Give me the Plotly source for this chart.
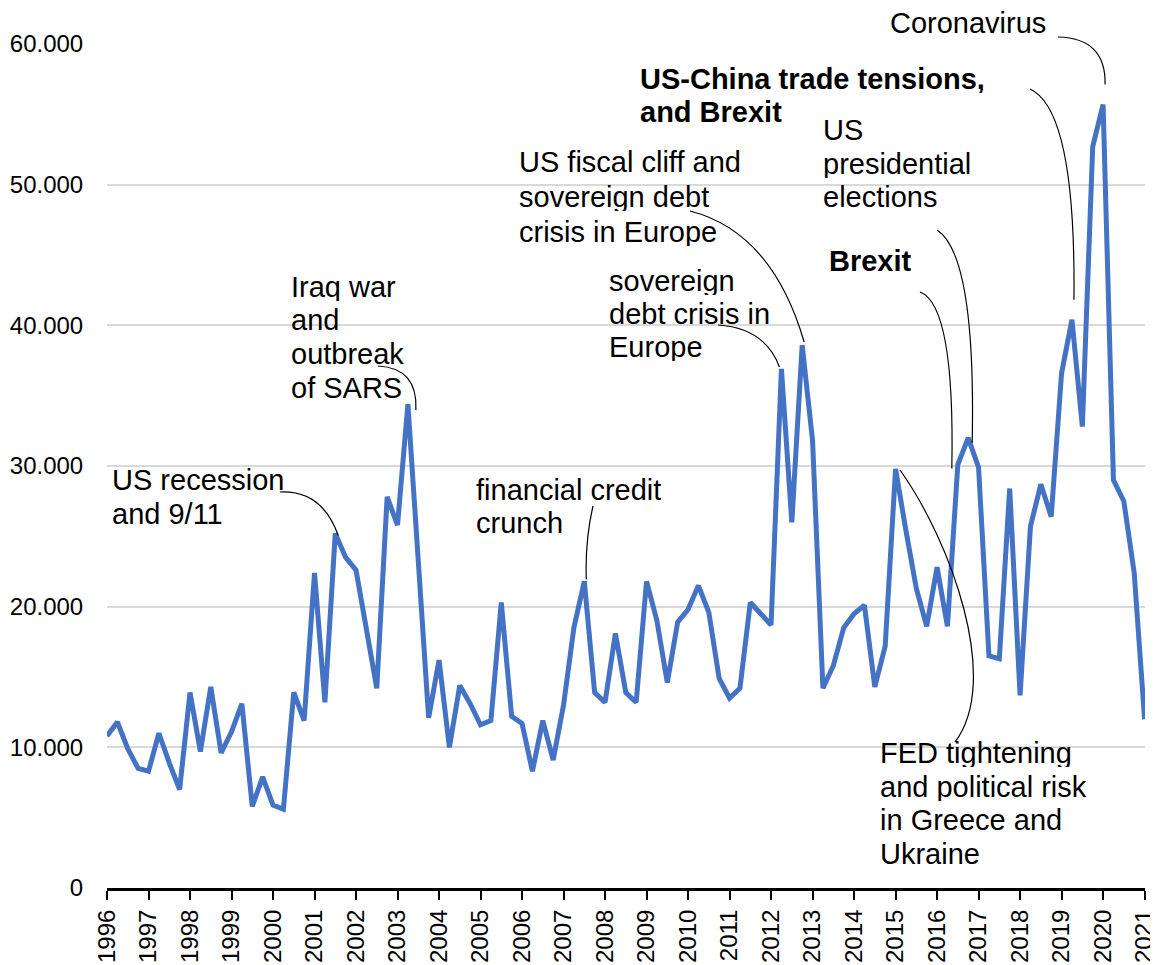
"""Quarterly volatility series with event annotations, 1996-2021."""

import plotly.graph_objects as go

# quarterly values, 1996Q1 .. 2021Q1
volatility = [
    10.8, 11.8, 9.9, 8.5, 8.3, 11.0, 8.9, 7.0,        # 1996-1997
    13.9, 9.7, 14.3, 9.6, 11.1, 13.1, 5.8, 7.9,       # 1998-1999
    5.9, 5.6, 13.9, 11.9, 22.4, 13.2, 25.2, 23.5,     # 2000-2001
    22.6, 18.2, 14.2, 27.8, 25.8, 34.4, 23.0, 12.1,   # 2002-2003
    16.2, 10.0, 14.4, 13.1, 11.6, 11.9, 20.3, 12.2,   # 2004-2005
    11.7, 8.3, 11.9, 9.1, 13.0, 18.5, 21.8, 13.9,     # 2006-2007
    13.2, 18.1, 13.9, 13.2, 21.8, 19.0, 14.6, 18.9,   # 2008-2009
    19.8, 21.5, 19.6, 14.9, 13.5, 14.2, 20.3, 19.5,   # 2010-2011
    18.7, 36.9, 26.0, 38.6, 31.8, 14.2, 15.8, 18.5,   # 2012-2013
    19.5, 20.1, 14.3, 17.2, 29.8, 25.4, 21.3, 18.6,   # 2014-2015
    22.8, 18.6, 30.1, 32.0, 29.9, 16.5, 16.3, 28.4,   # 2016-2017
    13.7, 25.7, 28.7, 26.4, 36.6, 40.4, 32.8, 52.7,   # 2018-2019
    55.7, 29.0, 27.5, 22.4, 12.0,                     # 2020-2021
]
years = list(range(1996, 2022))
y_ticks = [0, 10, 20, 30, 40, 50, 60]
y_tick_labels = ["0", "10.000", "20.000", "30.000", "40.000", "50.000", "60.000"]

event_texts = [
    ["US recession", "and 9/11"],
    ["Iraq war", "and", "outbreak", "of SARS"],
    ["financial credit", "crunch"],
    ["US fiscal cliff and", "sovereign debt", "crisis in Europe"],
    ["sovereign", "debt crisis in", "Europe"],
    ["US-China trade tensions,", "and Brexit"],
    ["US", "presidential", "elections"],
    ["Brexit"],
    ["Coronavirus"],
    ["FED tightening", "and political risk", "in Greece and", "Ukraine"],
]
event_quarter = [22, 29, 46, 67, 65, 93, 83, 82, 96, 76]

# screen pixels (window 1158 x 965); the page body adds an 8 px margin
SCREEN_W, SCREEN_H, OFF = 1158, 965, 8
PL, PR, PT, PB = 107, 1145, 44, 888
X_END = years[-1] + 0.01
FONT = "Liberation Sans, Arial, sans-serif"

# text block: left x, first line centre y, line step, bold
text_pos = [
    (111, 480, 33.5, False),
    (290, 287, 33.5, False),
    (475, 490, 33.0, False),
    (518, 162, 35.0, False),
    (608, 281, 33.0, False),
    (639, 79, 33.0, True),
    (822, 130, 33.5, False),
    (828, 261, 33.0, True),
    (889, 23, 33.0, False),
    (879, 753, 33.5, False),
]
# leader: start pixel, control pixels, end offset (px) from the data point
leader_geom = [
    ((280, 492), [(322, 490)], (3, 2)),
    ((378, 366), [(418, 368)], (8, 6)),
    ((593, 506), [(585, 540)], (2, -2)),
    ((690, 211), [(772, 232)], (2, -3)),
    ((718, 325), [(765, 328)], (-2, -2)),
    ((1030, 89), [(1076, 110)], (2, -20)),
    ((937, 230), [(976, 255)], (4, 5)),
    ((920, 292), [(955, 305)], (-6, 4)),
    ((1058, 37), [(1106, 38)], (2, -20)),
    ((900, 470), [(950, 540), (1002, 680)], (0, 0)),
]


def px_x(px):
    return (px - PL) / (PR - PL)


def px_y(py):
    return (PB - py) / (PB - PT)


def data_to_px(x, y):
    return (PL + (x - years[0]) / (X_END - years[0]) * (PR - PL),
            PB - y / 60 * (PB - PT))


quarters = [years[0] + i / 4 for i in range(len(volatility))]

fig = go.Figure()
fig.add_trace(
    go.Scatter(
        x=quarters,
        y=volatility,
        mode="lines",
        line={"color": "#4472C4", "width": 5},
        cliponaxis=False,
        showlegend=False,
    )
)

annotations = []
for lines, (tx, ty, step, bold) in zip(event_texts, text_pos):
    for k, line in enumerate(lines):
        annotations.append(
            dict(
                x=px_x(tx),
                y=px_y(ty + k * step),
                xref="paper",
                yref="paper",
                xanchor="left",
                yanchor="middle",
                height=28,
                text=f"<b>{line}</b>" if bold else line,
                showarrow=False,
                font={"family": FONT, "size": 29, "color": "black"},
                borderpad=0,
            )
        )

shapes = []
for idx, (start, ctrls, off) in zip(event_quarter, leader_geom):
    ex, ey = data_to_px(quarters[idx], volatility[idx])
    ex, ey = ex + off[0], ey + off[1]
    if idx == 76:
        ex, ey = 955, 742
    pts = [start] + ctrls + [(ex, ey)]
    p = [f"{px_x(a):.5f},{px_y(b):.5f}" for a, b in pts]
    cmd = "Q" if len(ctrls) == 1 else "C"
    shapes.append(
        dict(
            type="path",
            xref="paper",
            yref="paper",
            path=f"M {p[0]} {cmd} " + " ".join(p[1:]),
            line={"color": "black", "width": 1.2},
        )
    )

fig.update_layout(
    width=SCREEN_W - OFF,
    height=SCREEN_H - OFF,
    template="plotly_white",
    paper_bgcolor="white",
    plot_bgcolor="white",
    margin={
        "l": PL - OFF,
        "r": SCREEN_W - PR,
        "t": PT - OFF,
        "b": SCREEN_H - PB,
        "autoexpand": False,
    },
    font={"family": FONT, "size": 24, "color": "black"},
    annotations=annotations,
    shapes=shapes,
    xaxis={
        "range": [years[0], X_END],
        "automargin": False,
        "tickvals": years,
        "ticktext": [str(y) for y in years],
        "tickangle": -90,
        "ticklabeloverflow": "allow",
        "showgrid": False,
        "zeroline": False,
        "showline": True,
        "linecolor": "black",
        "linewidth": 3,
        "ticks": "outside",
        "ticklen": 9,
        "tickwidth": 2,
        "tickcolor": "black",
        "tickfont": {"size": 24, "color": "black"},
    },
    yaxis={
        "range": [0, 60],
        "automargin": False,
        "tickvals": y_ticks,
        "ticktext": y_tick_labels,
        "showgrid": True,
        "gridcolor": "#d9d9d9",
        "gridwidth": 1.5,
        "zeroline": False,
        "showline": False,
        "ticks": "outside",
        "ticklen": 18,
        "tickcolor": "rgba(0,0,0,0)",
        "tickfont": {"size": 24, "color": "black"},
    },
)

fig.write_html("out.html")
